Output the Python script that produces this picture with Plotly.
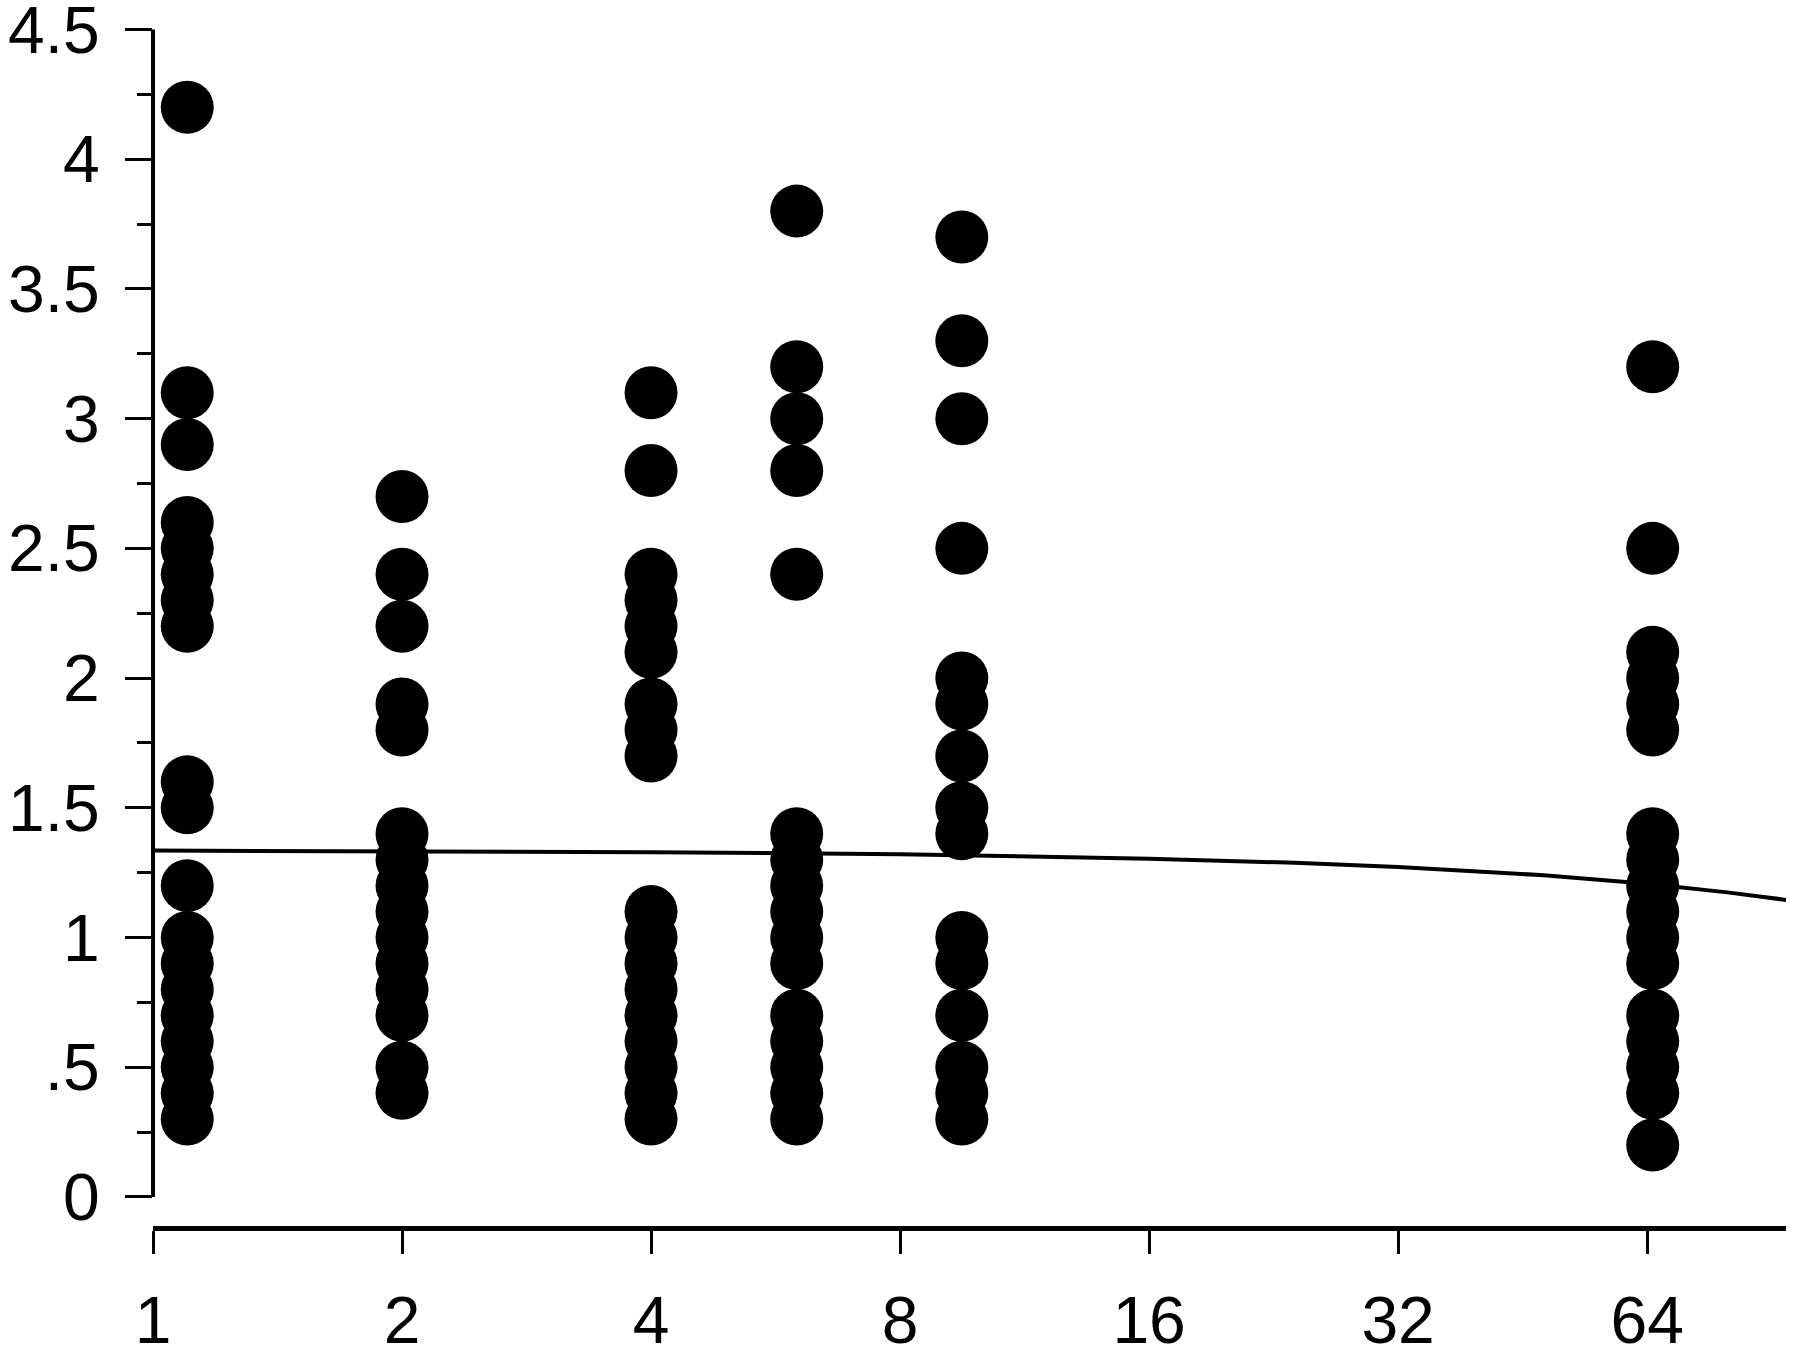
import math
import plotly.graph_objects as go

# ---- data ----
x_groups = [1.1, 2, 4, 6, 9.5, 65]
y_groups = [
    [4.2, 3.1, 2.9, 2.6, 2.5, 2.4, 2.3, 2.2, 1.6, 1.5, 1.2, 1.0, 0.9, 0.8, 0.7, 0.6, 0.5, 0.4, 0.3],
    [2.7, 2.4, 2.2, 1.9, 1.8, 1.4, 1.3, 1.2, 1.1, 1.0, 0.9, 0.8, 0.7, 0.5, 0.4],
    [3.1, 2.8, 2.4, 2.3, 2.2, 2.1, 1.9, 1.8, 1.7, 1.1, 1.0, 0.9, 0.8, 0.7, 0.6, 0.5, 0.4, 0.3],
    [3.8, 3.2, 3.0, 2.8, 2.4, 1.4, 1.3, 1.2, 1.1, 1.0, 0.9, 0.7, 0.6, 0.5, 0.4, 0.3],
    [3.7, 3.3, 3.0, 2.5, 2.0, 1.9, 1.7, 1.5, 1.4, 1.0, 0.9, 0.7, 0.5, 0.4, 0.3],
    [3.2, 2.5, 2.1, 2.0, 1.9, 1.8, 1.4, 1.3, 1.2, 1.1, 1.0, 0.9, 0.7, 0.6, 0.5, 0.4, 0.2],
]
fit_x = [1, 2, 4, 8, 16, 24, 32, 48, 64, 80, 94.2]
fit_y = [1.335, 1.333, 1.329, 1.321, 1.304, 1.288, 1.272, 1.240, 1.207, 1.174, 1.145]

x_tickvals = [1, 2, 4, 8, 16, 32, 64]
x_ticktext = ["1", "2", "4", "8", "16", "32", "64"]
y_tickvals = [0, 0.5, 1, 1.5, 2, 2.5, 3, 3.5, 4, 4.5]
y_ticktext = ["0", ".5", "1", "1.5", "2", "2.5", "3", "3.5", "4", "4.5"]
y_minor = [0.25, 0.75, 1.25, 1.75, 2.25, 2.75, 3.25, 3.75, 4.25]

xs, ys = [], []
for xv, yl in zip(x_groups, y_groups):
    for yv in yl:
        xs.append(xv)
        ys.append(yv)

FONT = "Liberation Sans, Arial, sans-serif"

fig = go.Figure()
fig.add_trace(go.Scatter(
    x=fit_x, y=fit_y, mode="lines",
    line=dict(color="black", width=4), showlegend=False, hoverinfo="skip",
))
fig.add_trace(go.Scatter(
    x=xs, y=ys, mode="markers",
    marker=dict(color="black", size=53, line=dict(width=0)),
    showlegend=False, cliponaxis=False,
))

# y axis line from 0 to 4.5 only
fig.add_shape(type="line", xref="paper", yref="y", x0=0, x1=0, y0=0, y1=4.5,
              line=dict(color="black", width=4))

fig.update_layout(
    width=1800, height=1355,
    margin=dict(l=153, r=14, t=29, b=129),
    paper_bgcolor="white", plot_bgcolor="white",
    font=dict(family=FONT, size=66, color="black"),
    xaxis=dict(
        type="log", range=[0, math.log10(94.2)],
        tickvals=x_tickvals, ticktext=x_ticktext,
        ticks="outside", ticklen=23, tickwidth=3, tickcolor="black",
        showline=True, linecolor="black", linewidth=5,
        showgrid=False, zeroline=False, automargin=False,
        ticklabelstandoff=10, ticklabeloverflow="allow",
    ),
    yaxis=dict(
        range=[-0.112, 4.502],
        tickvals=y_tickvals, ticktext=y_ticktext,
        ticks="outside", ticklen=27, tickwidth=3, tickcolor="black",
        minor=dict(tickvals=y_minor,
                   ticks="outside", ticklen=15, tickwidth=3, tickcolor="black"),
        showline=False, showgrid=False, zeroline=False, automargin=False,
        ticklabelstandoff=12, ticklabeloverflow="allow",
    ),
)

fig.write_html("out.html", config={"displayModeBar": False},
               post_script="document.body.style.margin='0';document.body.style.padding='0';")
